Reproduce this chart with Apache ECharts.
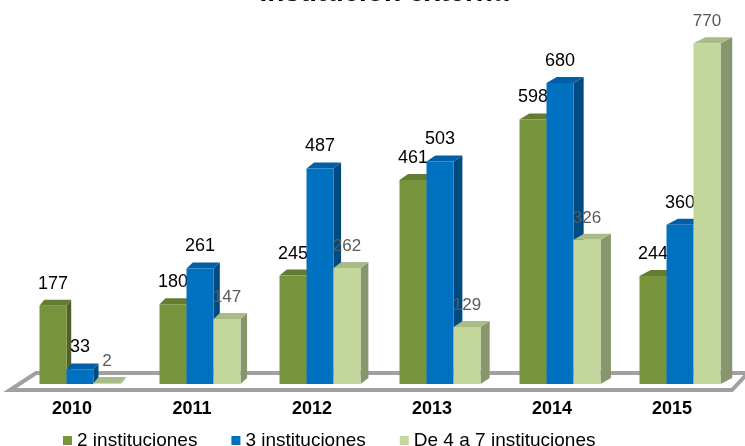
<!DOCTYPE html>
<html>
<head>
<meta charset="utf-8">
<script src="https://cdn.jsdelivr.net/npm/echarts@6/dist/echarts.min.js"></script>
<style>html,body{margin:0;padding:0;background:#fff;}#chart{width:745px;height:446px;}</style>
</head>
<body>
<div id="chart"></div>
<script>
const titleText = 'institución externa';
const categories = ['2010', '2011', '2012', '2013', '2014', '2015'];
const seriesNames = ['2 instituciones', '3 instituciones', 'De 4 a 7 instituciones'];
const values2 = [177, 180, 245, 461, 598, 244];
const values3 = [33, 261, 487, 503, 680, 360];
const values4a7 = [2, 147, 262, 129, 326, 770];

const FONT = '"Liberation Sans", Arial, sans-serif';
const palette = [
  { front: '#77933C', side: '#4F6228', top: '#627D31', label: '#000000', lsize: 18 },
  { front: '#0070C0', side: '#004A82', top: '#005FA6', label: '#000000', lsize: 18 },
  { front: '#C3D69B', side: '#87966C', top: '#A9BB86', label: '#595959', lsize: 17 }
];

function makeRender(k) {
  return function (params, api) {
    const idx = api.value(0);
    const val = api.value(1);
    const base = api.coord([idx, 0]);
    const topP = api.coord([idx, val]);
    const band = api.size([1, 0])[0];
    const bw = band * 0.225;
    const start = base[0] + 8 - 1.5 * bw;
    const x0 = start + k * bw;
    const x1 = x0 + bw;
    const yb = base[1];
    const yt = Math.min(topP[1], yb - 0.5);
    const dx = 4 + 8 * (x1 / 745);
    const dy = 6;
    const c = palette[k];
    return {
      type: 'group',
      children: [
        { type: 'polygon', shape: { points: [[x1, yt], [x1 + dx, yt - dy], [x1 + dx, yb - dy], [x1, yb]] }, style: { fill: c.side } },
        { type: 'polygon', shape: { points: [[x0, yt], [x1, yt], [x1 + dx, yt - dy], [x0 + dx, yt - dy]] }, style: { fill: c.top } },
        { type: 'rect', shape: { x: x0, y: yt, width: bw, height: yb - yt }, style: { fill: c.front } },
        { type: 'text', z2: 100, style: { text: String(val), x: (x0 + x1) / 2, y: yt - 13, align: 'center', verticalAlign: 'bottom', font: c.lsize + 'px ' + FONT, fill: c.label } }
      ]
    };
  };
}

const allValues = [values2, values3, values4a7];
const chart = echarts.init(document.getElementById('chart'), null, { renderer: 'canvas' });
chart.setOption({
  animation: false,
  backgroundColor: '#ffffff',
  grid: { left: 12, right: 13, top: 30, bottom: 62, containLabel: false },
  xAxis: {
    type: 'category', data: categories,
    axisLine: { show: false }, axisTick: { show: false }, splitLine: { show: false },
    axisLabel: { margin: 16, color: '#000', fontWeight: 'bold', fontSize: 18, fontFamily: FONT }
  },
  yAxis: { type: 'value', min: 0, max: 800, show: false },
  legend: {
    data: seriesNames.map((n, i) => ({ name: n, itemStyle: { color: palette[i].front } })),
    left: 58, top: 426, icon: 'rect', itemWidth: 9, itemHeight: 9, itemGap: 34,
    textStyle: { fontSize: 19, color: '#000', fontFamily: FONT }
  },
  graphic: [
    { type: 'polygon', z: 0, shape: { points: [[10, 390], [732, 390], [748, 373], [36, 373]] }, style: { fill: '#ffffff', stroke: '#A0A0A0', lineWidth: 4 } },
    { type: 'text', z: 10, x: 384, y: -21, style: { text: titleText, font: 'bold 28px ' + FONT, fill: '#000', align: 'center', verticalAlign: 'top' } }
  ],
  series: allValues.map((vals, k) => ({
    type: 'custom',
    name: seriesNames[k],
    itemStyle: { color: palette[k].front },
    renderItem: makeRender(k),
    encode: { x: 0, y: 1 },
    data: vals.map((v, i) => [i, v]),
    z: 2 + k
  }))
});
</script>
</body>
</html>
